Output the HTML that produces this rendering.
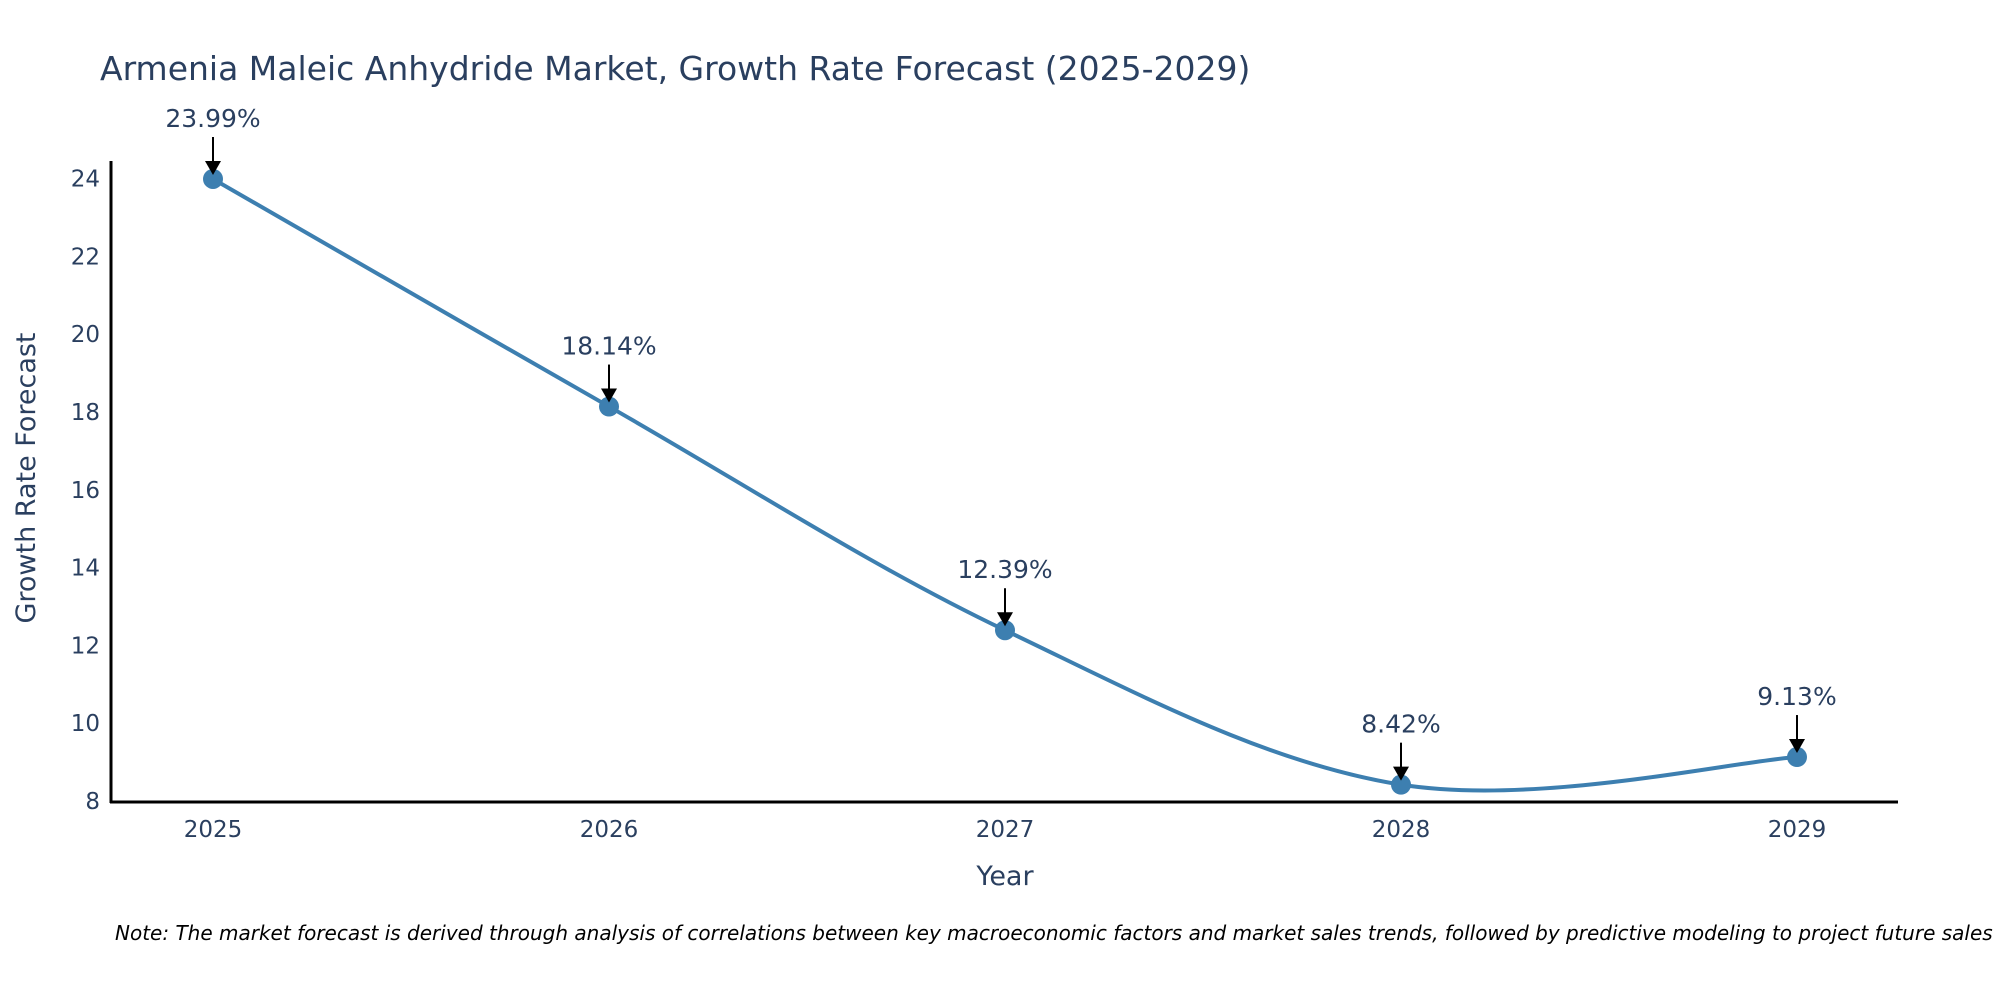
<!DOCTYPE html>
<html><head><meta charset="utf-8"><style>
body{margin:0;background:#fff;}
svg{display:block;font-family:"DejaVu Sans","Liberation Sans",sans-serif;}
</style></head><body>
<svg id="chart" width="2000" height="1000">
<text x="100" y="80" font-size="33" fill="#2a3f5f">Armenia Maleic Anhydride Market, Growth Rate Forecast (2025-2029)</text>
<g id="yticks"></g><g id="xticks"></g>
<g id="series"></g><g id="annots"></g>
<line x1="111" y1="161" x2="111" y2="803" stroke="#000" stroke-width="3"/>
<line x1="110" y1="802" x2="1898" y2="802" stroke="#000" stroke-width="3"/>
<text x="1005" y="885" font-size="27" fill="#2a3f5f" text-anchor="middle">Year</text>
<text transform="translate(35,478) rotate(-90)" font-size="27" fill="#2a3f5f" text-anchor="middle">Growth Rate Forecast</text>
<text x="115" y="940" font-size="20" font-style="italic" fill="#000">Note: The market forecast is derived through analysis of correlations between key macroeconomic factors and market sales trends, followed by predictive modeling to project future sales</text>
</svg>
<script>
const years=[2025,2026,2027,2028,2029];
const values=[23.99,18.14,12.39,8.42,9.13];
const labels=["23.99%","18.14%","12.39%","8.42%","9.13%"];
const yTicks=[8,10,12,14,16,18,20,22,24];
const NS="http://www.w3.org/2000/svg";
function X(v){return 213+(v-2025)*396;}
function Y(v){return 801-(v-8)*38.9;}
function mk(t,a,parent){const e=document.createElementNS(NS,t);for(const k in a)e.setAttribute(k,a[k]);document.getElementById(parent).appendChild(e);return e;}
yTicks.forEach(t=>{const e=mk('text',{x:100,y:Y(t)+8,'font-size':23,fill:'#2a3f5f','text-anchor':'end'},'yticks');e.textContent=t;

});
years.forEach(t=>{const e=mk('text',{x:X(t),y:837,'font-size':23,fill:'#2a3f5f','text-anchor':'middle'},'xticks');e.textContent=t;

});
const pts=years.map((y,i)=>[X(y),Y(values[i])]);
let d='M'+pts[0][0]+','+pts[0][1];
const s=0.17;
for(let i=0;i<pts.length-1;i++){
 const p0=pts[Math.max(0,i-1)],p1=pts[i],p2=pts[i+1],p3=pts[Math.min(pts.length-1,i+2)];
 const c1=[p1[0]+(p2[0]-p0[0])*s,p1[1]+(p2[1]-p0[1])*s];
 const c2=[p2[0]-(p3[0]-p1[0])*s,p2[1]-(p3[1]-p1[1])*s];
 d+=' C'+c1+' '+c2+' '+p2;
}
const path=mk('path',{d:d,fill:'none',stroke:'#3d7fb0','stroke-width':4},'series');


pts.forEach((p,i)=>{
 const c=mk('circle',{cx:p[0],cy:p[1],r:10,fill:'#3d7fb0'},'series');
 
 
 const l=mk('line',{x1:p[0],y1:p[1]-42,x2:p[0],y2:p[1]-14,stroke:'#000','stroke-width':2},'annots');
 
 
 const a=mk('path',{d:`M${p[0]-8},${p[1]-18} L${p[0]+8},${p[1]-18} L${p[0]},${p[1]-4} Z`,fill:'#000'},'annots');
 
 
 const t=mk('text',{x:p[0],y:p[1]-52,'font-size':25,fill:'#2a3f5f','text-anchor':'middle'},'annots');
 t.textContent=labels[i];
 
 
});
</script>
</body></html>
